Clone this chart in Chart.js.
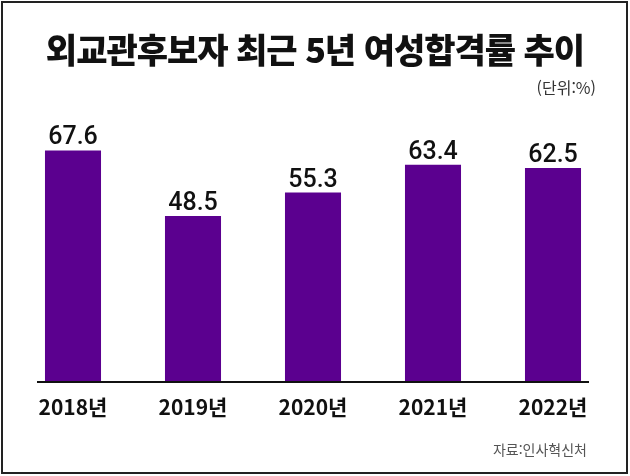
<!DOCTYPE html>
<html lang="ko">
<head>
<meta charset="utf-8">
<script src="https://cdn.jsdelivr.net/npm/chart.js@4.4.1/dist/chart.umd.min.js"></script>
<style>
  html, body { margin: 0; padding: 0; background: #fff; }
  #wrap { position: relative; width: 630px; height: 476px; overflow: hidden; background: #fff; }
  #frame { position: absolute; left: 1px; top: 1px; width: 623px; height: 469px; border: 2px solid #222; }
  #chart { position: absolute; left: 0; top: 0; }
  .txt { position: absolute; white-space: nowrap; font-family: "Noto Sans CJK KR", sans-serif; }
  #title { left: 0; width: 630px; text-align: center; top: 32px; font-size: 34px; line-height: 34px; font-weight: 900; color: #111; letter-spacing: -1px; }
  #unit { right: 34px; top: 79px; font-size: 16px; line-height: 16px; color: #333; }
  #source { right: 43px; top: 442px; font-size: 14px; line-height: 14px; color: #555; }
</style>
</head>
<body>
<div id="wrap">
  <div id="frame"></div>
  <canvas id="chart" width="630" height="476"></canvas>
  <div class="txt" id="title">외교관후보자 최근 5년 여성합격률 추이</div>
  <div class="txt" id="unit">(단위:%)</div>
  <div class="txt" id="source">자료:인사혁신처</div>
</div>
<script>
// données
const years = ['2018년', '2019년', '2020년', '2021년', '2022년'];
const femaleRate = [67.6, 48.5, 55.3, 63.4, 62.5];

const barColor = '#5b008f';

// étiquettes de valeur au-dessus des barres
const valueLabels = {
  id: 'valueLabels',
  afterDatasetsDraw(chart) {
    const ctx = chart.ctx;
    const meta = chart.getDatasetMeta(0);
    ctx.save();
    ctx.font = '500 25px Roboto, sans-serif';
    ctx.fillStyle = '#111';
    ctx.textAlign = 'center';
    ctx.textBaseline = 'alphabetic';
    meta.data.forEach((bar, i) => {
      ctx.fillText(femaleRate[i].toFixed(1), bar.x, bar.y - 6);
    });
    ctx.restore();
  }
};

// ligne de base sous les barres
const baseLine = {
  id: 'baseLine',
  afterDatasetsDraw(chart) {
    const ctx = chart.ctx;
    const x = chart.scales.x;
    const y = chart.chartArea.bottom;
    ctx.save();
    ctx.strokeStyle = '#111';
    ctx.lineWidth = 2;
    ctx.beginPath();
    ctx.moveTo(x.getPixelForValue(0) - 36, y);
    ctx.lineTo(x.getPixelForValue(years.length - 1) + 36, y);
    ctx.stroke();
    ctx.restore();
  }
};

new Chart(document.getElementById('chart'), {
  type: 'bar',
  data: {
    labels: years,
    datasets: [{
      data: femaleRate,
      backgroundColor: barColor,
      borderWidth: 0,
      categoryPercentage: 1,
      barPercentage: 0.467
    }]
  },
  options: {
    responsive: false,
    animation: false,
    layout: { padding: { top: 108, left: 13, right: 17, bottom: 54 } },
    plugins: {
      legend: { display: false },
      title: { display: false },
      tooltip: { enabled: false }
    },
    scales: {
      x: {
        grid: { display: false, drawTicks: false },
        border: { display: false },
        ticks: {
          padding: 12,
          color: '#111',
          font: { family: '"Noto Sans CJK KR", sans-serif', size: 21, weight: 'bold' }
        },
        afterFit(scale) { scale.height = 40; }
      },
      y: {
        display: false,
        min: 0,
        max: 80
      }
    }
  },
  plugins: [valueLabels, baseLine]
});
</script>
</body>
</html>
